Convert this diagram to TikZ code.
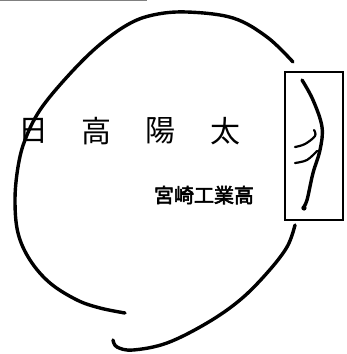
\documentclass[tikz,border=0pt]{standalone}
\usepackage{fontspec}
\newfontfamily\cjk{Noto Sans CJK JP}
\newfontfamily\cjkbold[FakeBold=3]{Noto Sans CJK JP}
\begin{document}
\begin{tikzpicture}[x=1pt,y=-1pt,
  brush/.style={line width=3.4pt,line cap=round,line join=round},
  thinbrush/.style={line width=2.2pt,line cap=round,line join=round},
  namech/.style={font=\cjk\fontsize{30}{30}\selectfont,inner sep=0pt,anchor=center},
  school/.style={font=\cjkbold\fontsize{20}{20}\selectfont,inner sep=0pt,anchor=center}]
\useasboundingbox (0,0) rectangle (347,354);
% gray rule at top
\draw[gray,line width=1.5pt] (0,0.6) -- (147,0.6);
% box
\node[draw,line width=1.6pt,minimum width=58pt,minimum height=148pt,inner sep=0pt] (frame) at (314,146) {};
% text
\node[namech] (c1) at (33,131) {日};
\node[namech] (c2) at (96,131) {高};
\node[namech] (c3) at (160,131) {陽};
\node[namech] (c4) at (225,131) {太};
\node[school] (sch) at (204,195) {宮崎工業高};
% big curve
\draw[brush] plot[smooth,tension=0.6] coordinates {(293,62) (267,37) (233,18) (187,12) (153,15) (127,25) (97,47) (67,77) (40,110) (25,140) (18,167) (15,200) (18,233) (30,260) (50,283) (77,300) (100,308) (125,313)};
% lower curve
\draw[brush] plot[smooth,tension=0.6] coordinates {(295,225) (287,247) (267,273) (240,300) (207,323) (167,343) (133,350) (117,347) (113,340)};
% curve in box
\draw[brush] plot[smooth,tension=0.6] coordinates {(302,80) (313,100) (322,127) (320,150) (313,173) (307,200) (303,208)};
\fill (304,208) circle (2.6pt);
\draw[thinbrush] plot[smooth,tension=0.6] coordinates {(295,147) (305,144) (315,136) (314,130)};
\draw[thinbrush] plot[smooth,tension=0.6] coordinates {(295,163) (307,160) (317,151)};
\end{tikzpicture}
\end{document}
